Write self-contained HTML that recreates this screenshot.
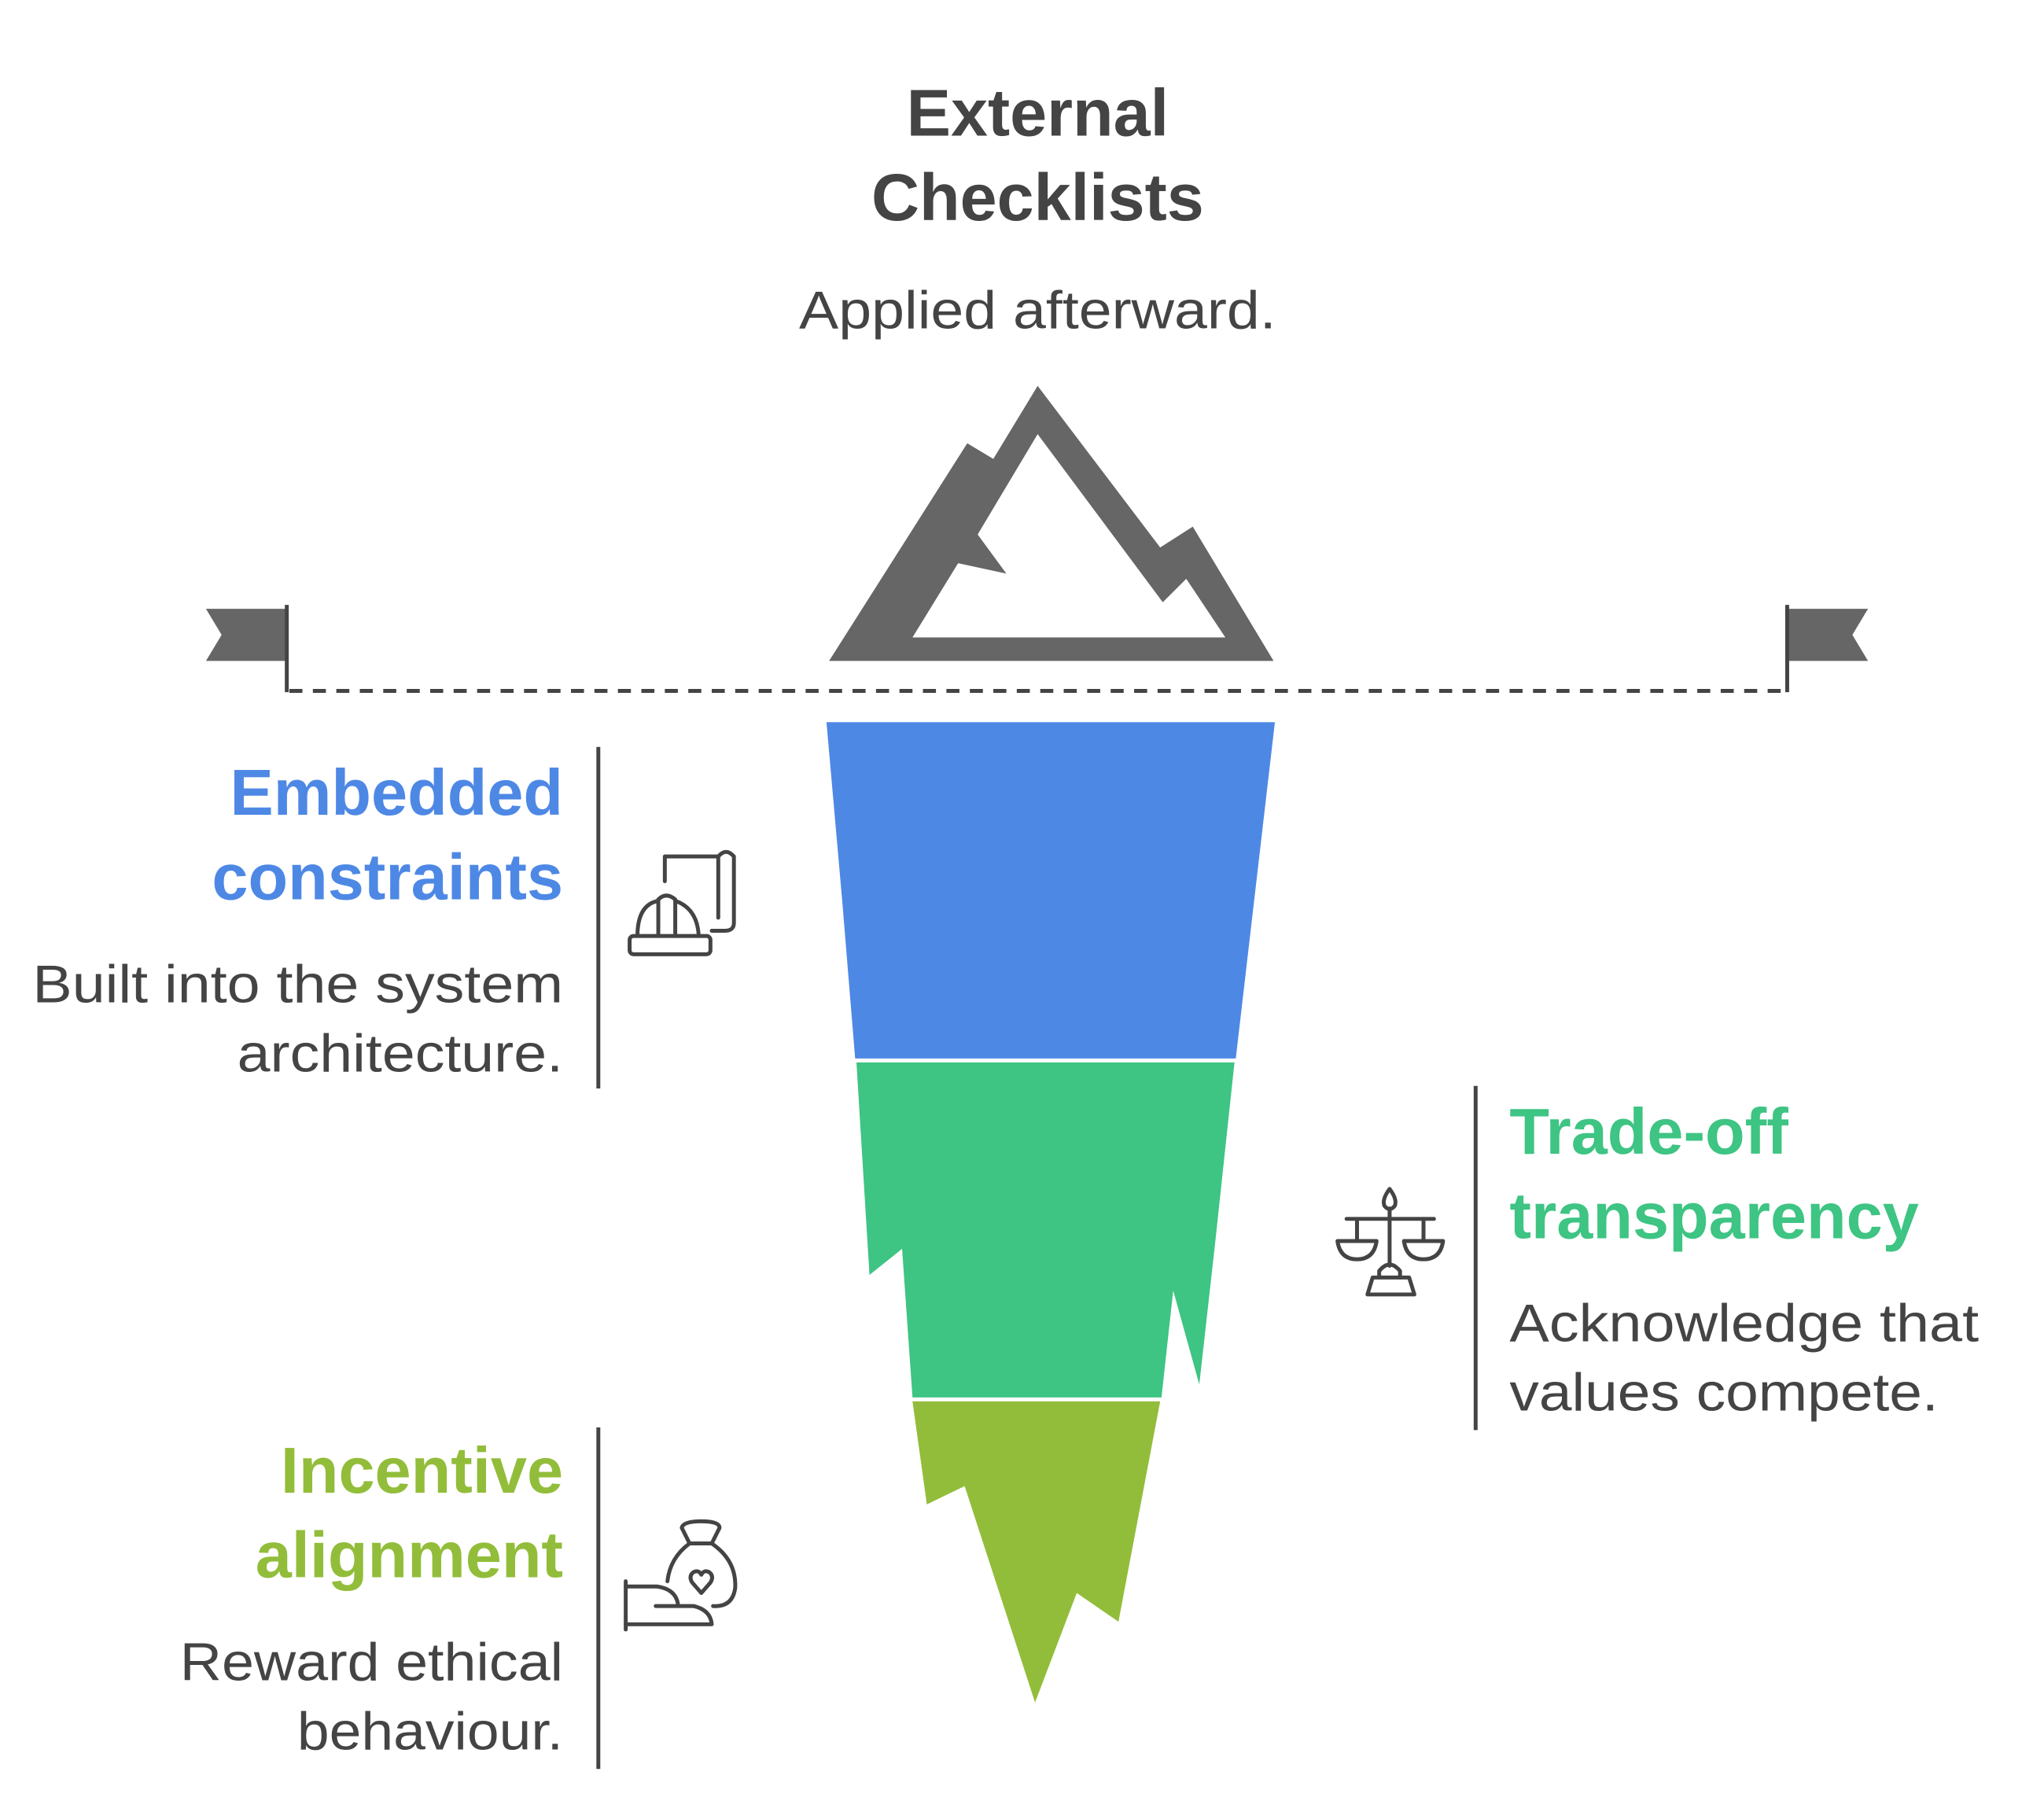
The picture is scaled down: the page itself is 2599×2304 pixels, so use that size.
<!DOCTYPE html>
<html><head><meta charset="utf-8"><style>
html,body{margin:0;padding:0;background:#fff;}
svg{display:block;}
text{font-family:"Liberation Sans",Arial,sans-serif;}
</style></head><body>
<svg width="2599" height="2304" viewBox="0 0 1568 1390" preserveAspectRatio="none" xmlns="http://www.w3.org/2000/svg">
<rect width="1568" height="1390" fill="#fff"/>
<!-- title -->
<text x="796" y="104" text-anchor="middle" font-size="51" font-weight="bold" fill="#444">External</text>
<text x="796" y="169" text-anchor="middle" font-size="51" font-weight="bold" fill="#444">Checklists</text>
<text x="796" y="252" text-anchor="middle" font-size="41" fill="#444" textLength="366" lengthAdjust="spacingAndGlyphs">Applied afterward.</text>
<!-- mountain -->
<path d="M636,507 L742,340 L762,352 L796,296 L890,420 L915,404 L977,507 Z M700,489 L735,432 L772,440 L750,410 L796,333 L892,462 L910,444 L940,489 Z" fill="#666" fill-rule="evenodd"/>
<!-- flags -->
<path d="M158,467 L220,467 L220,507 L158,507 L170,487 Z" fill="#666"/>
<line x1="220" y1="464" x2="220" y2="531" stroke="#444" stroke-width="3"/>
<path d="M1371,467 L1433,467 L1421,487 L1433,507 L1371,507 Z" fill="#666"/>
<line x1="1371" y1="464" x2="1371" y2="531" stroke="#444" stroke-width="3"/>
<line x1="222" y1="530" x2="1371" y2="530" stroke="#444" stroke-width="3" stroke-dasharray="10,8"/>
<!-- iceberg -->
<path d="M634,554 L978,554 L948,812 L656,812 L646,690 Z" fill="#4e88e5"/>
<path d="M657,815 L947,815 L932,955 L920,1062 L900,990 L891,1072 L700,1072 L692,958 L667,978 Z" fill="#3ec483"/>
<path d="M700,1075 L890,1075 L858,1244 L826,1222 L794,1306 L740,1140 L711,1154 Z" fill="#92bd3a"/>
<!-- left top -->
<text x="432" y="625" text-anchor="end" font-size="50" font-weight="bold" fill="#4e88e5">Embedded</text>
<text x="432" y="690" text-anchor="end" font-size="50" font-weight="bold" fill="#4e88e5">constraints</text>
<text x="432" y="769" text-anchor="end" font-size="41" fill="#444" textLength="407" lengthAdjust="spacingAndGlyphs">Built into the system</text>
<text x="432" y="822" text-anchor="end" font-size="41" fill="#444" textLength="250" lengthAdjust="spacingAndGlyphs">architecture.</text>
<line x1="459" y1="573" x2="459" y2="835" stroke="#444" stroke-width="3"/>
<g fill="none" stroke="#444" stroke-width="3" stroke-linecap="round" stroke-linejoin="round">
<path d="M510,676 L510,657 L551,657"/>
<path d="M551,704 L551,657 Q557,650 563,657 L563,708 Q563,714 556,714 L546,714"/>
<rect x="483" y="718" width="62" height="14" rx="3"/>
<path d="M489,718 Q489,694 505,691 M518,691 Q535,697 536,718"/>
<path d="M505,718 L505,690 Q511,684 518,690 L518,718"/>
</g>
<!-- right -->
<line x1="1132" y1="833" x2="1132" y2="1097" stroke="#444" stroke-width="3"/>
<text x="1158" y="885" font-size="50" font-weight="bold" fill="#3ec483">Trade-off</text>
<text x="1158" y="950" font-size="50" font-weight="bold" fill="#3ec483">transparency</text>
<text x="1158" y="1029" font-size="41" fill="#444" textLength="360" lengthAdjust="spacingAndGlyphs">Acknowledge that</text>
<text x="1158" y="1082" font-size="41" fill="#444" textLength="329" lengthAdjust="spacingAndGlyphs">values compete.</text>
<g fill="none" stroke="#444" stroke-width="3" stroke-linecap="round" stroke-linejoin="round" transform="translate(5,3)">
<line x1="1028" y1="932" x2="1095" y2="932"/>
<line x1="1061" y1="924" x2="1061" y2="968"/>
<path d="M1061,909 Q1055,917 1057,922 Q1061,927 1065,922 Q1067,917 1061,909 Z"/>
<line x1="1036" y1="932" x2="1036" y2="949"/>
<line x1="1087" y1="932" x2="1087" y2="949"/>
<path d="M1021,949 L1051,949 Q1049,963 1036,963 Q1023,963 1021,949 Z"/>
<path d="M1072,949 L1102,949 Q1100,963 1087,963 Q1074,963 1072,949 Z"/>
<path d="M1053,977 L1053,972 Q1061,962 1069,972 L1069,977"/>
<path d="M1048,977 L1076,977 L1080,990 L1044,990 Z"/>
</g>
<!-- bottom -->
<line x1="459" y1="1095" x2="459" y2="1357" stroke="#444" stroke-width="3"/>
<text x="432" y="1145" text-anchor="end" font-size="50" font-weight="bold" fill="#92bd3a">Incentive</text>
<text x="432" y="1210" text-anchor="end" font-size="50" font-weight="bold" fill="#92bd3a">alignment</text>
<text x="432" y="1289" text-anchor="end" font-size="41" fill="#444" textLength="294" lengthAdjust="spacingAndGlyphs">Reward ethical</text>
<text x="432" y="1342" text-anchor="end" font-size="41" fill="#444" textLength="204" lengthAdjust="spacingAndGlyphs">behaviour.</text>
<g fill="none" stroke="#444" stroke-width="3" stroke-linecap="round" stroke-linejoin="round">
<line x1="480" y1="1213" x2="480" y2="1250"/>
<path d="M480,1217 L504,1217 Q518,1219 520,1230"/>
<path d="M503,1232 L532,1232 Q545,1235 546,1246 L480,1246"/>
<path d="M529,1184 L523,1172 Q524,1167 538,1167 Q552,1167 552,1172 L546,1184 Z"/>
<path d="M512,1213 Q514,1195 529,1184 M546,1184 Q565,1197 564,1218 Q562,1233 547,1232"/>
<path d="M538,1222 L531,1214 Q528,1209 532,1206 Q536,1204 538,1208 Q540,1204 544,1206 Q548,1209 545,1214 Z"/>
</g>
</svg>
</body></html>
